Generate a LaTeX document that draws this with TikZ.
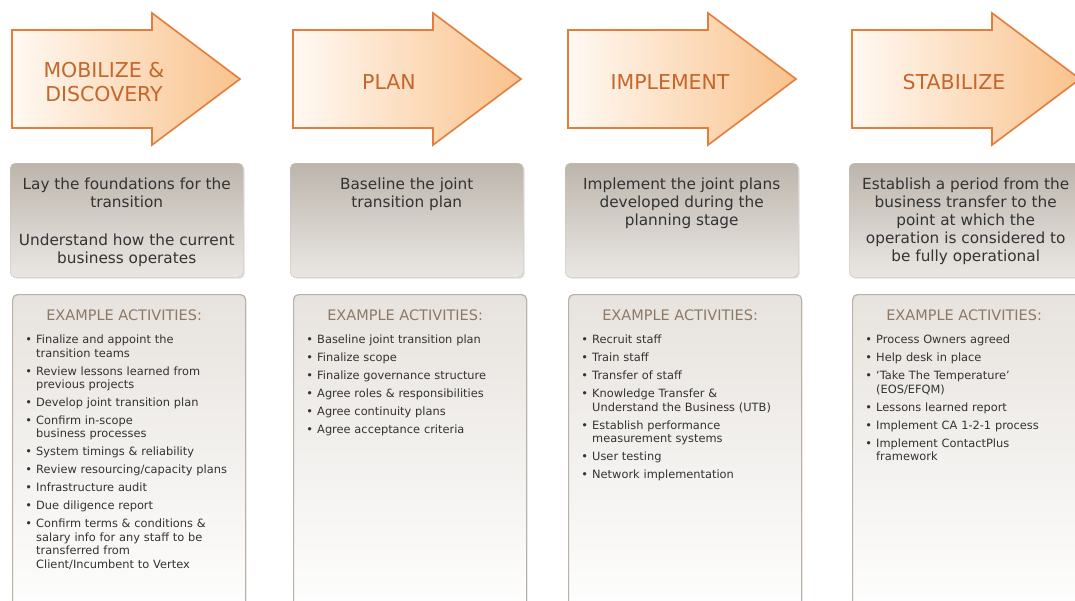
\documentclass[tikz,border=0pt]{standalone}
\usepackage{fontspec}
\setmainfont{DejaVu Sans}
\usepackage{enumitem}
\usetikzlibrary{shadows}

\definecolor{phaseline}{HTML}{E27D3C}
\definecolor{phaseleft}{HTML}{FFF9F3}
\definecolor{phaseright}{HTML}{F9C28C}
\definecolor{phasetext}{HTML}{C5662A}
\definecolor{goaltop}{HTML}{BDB5AC}
\definecolor{goalbottom}{HTML}{EAE7E3}
\definecolor{goalline}{HTML}{C9C2BA}
\definecolor{goaltext}{HTML}{333333}
\definecolor{acttop}{HTML}{E7E3DE}
\definecolor{actline}{HTML}{B9B1A7}
\definecolor{acthead}{HTML}{8C7A66}
\definecolor{acttext}{HTML}{333333}

\setlist[itemize]{label=\textbullet, leftmargin=11pt, labelsep=4pt, topsep=0pt,
  partopsep=0pt, itemsep=4.6pt, parsep=0pt}

\tikzset{%
  phase arrow/.style={
    draw=phaseline,
    line width=1.6pt,
    left color=phaseleft,
    right color=phaseright
  },
  phase title/.style={
    text=phasetext,
    align=center,
    font=\fontsize{20.5}{24}\selectfont
  },
  goal box/.style={
    draw=goalline,
    rounded corners=5pt,
    top color=goaltop,
    bottom color=goalbottom,
    minimum width=233pt,
    minimum height=114pt,
    inner sep=0pt,
    drop shadow={shadow xshift=1.5pt, shadow yshift=-1.5pt, opacity=0.25}
  },
  goal text/.style={
    anchor=north,
    text=goaltext,
    align=center,
    inner sep=0pt,
    font=\fontsize{15.3}{18}\selectfont
  },
  act box/.style={
    draw=actline,
    line width=1.2pt,
    rounded corners=5pt,
    top color=acttop,
    bottom color=white,
    minimum width=233pt,
    minimum height=330pt,
    inner sep=0pt,
    drop shadow={shadow xshift=1pt, shadow yshift=-1pt, opacity=0.15}
  },
  act head/.style={
    text=acthead,
    inner sep=0pt,
    font=\fontsize{14.5}{17}\selectfont
  },
  act list/.style={
    anchor=north west,
    text=acttext,
    text width=215pt,
    inner sep=0pt,
    font=\fontsize{11.4}{13.4}\selectfont
  },
}

\begin{document}
\begin{tikzpicture}[x=1pt, y=-1pt]
    \useasboundingbox (0,0) rectangle (1075,600);
    \fill[white] (0,0) rectangle (1075,600);
    \clip (0,0) rectangle (1075,600);

    % phase arrows
    \foreach \x/\o/\n/\t in {12/92/mobilize/{MOBILIZE \&\\DISCOVERY}, 293/96/plan/PLAN,
      568/102/implement/IMPLEMENT, 852/102/stabilize/STABILIZE} {
      \path [phase arrow] (\x,30) -- ++(140,0) -- ++(0,-17) -- ++(88,66)
        -- ++(-88,66) -- ++(0,-17) -- ++(-140,0) -- cycle;
      \node [phase title] (phase-\n) at (\x+\o,82) {\t};
    }

    % goal boxes
    \foreach \x/\n in {10/mobilize, 290/plan, 565/implement, 849/stabilize}
      \node [goal box, anchor=north west] (goal-\n) at (\x,163) {};
    \node [goal text] (goal-mobilize-text) at ([yshift=-15pt]goal-mobilize.north)
      {Lay the foundations for the\\transition\\[20pt]Understand how the current\\business operates};
    \node [goal text] (goal-plan-text) at ([yshift=-15pt]goal-plan.north)
      {Baseline the joint\\transition plan};
    \node [goal text] (goal-implement-text) at ([yshift=-15pt]goal-implement.north)
      {Implement the joint plans\\developed during the\\planning stage};
    \node [goal text] (goal-stabilize-text) at ([yshift=-15pt]goal-stabilize.north)
      {Establish a period from the\\business transfer to the\\point at which the\\operation is considered to\\be fully operational};

    % activity boxes
    \foreach \x/\n in {12/mobilize, 293/plan, 568/implement, 852/stabilize} {
      \node [act box, anchor=north west] (act-\n) at (\x,294) {};
      \node [act head] (act-\n-head) at ([xshift=-5pt, yshift=-21pt]act-\n.north) {EXAMPLE ACTIVITIES:};
    }
    \node [act list] (act-mobilize-list) at ([xshift=13pt, yshift=-36pt]act-mobilize.north west) {%
      \begin{itemize}
        \item Finalize and appoint the\\transition teams
        \item Review lessons learned from\\previous projects
        \item Develop joint transition plan
        \item Confirm in-scope\\business processes
        \item System timings \& reliability
        \item Review resourcing/capacity plans
        \item Infrastructure audit
        \item Due diligence report
        \item Confirm terms \& conditions \&\\salary info for any staff to be\\transferred from\\Client/Incumbent to Vertex
      \end{itemize}};
    \node [act list] (act-plan-list) at ([xshift=13pt, yshift=-36pt]act-plan.north west) {%
      \begin{itemize}
        \item Baseline joint transition plan
        \item Finalize scope
        \item Finalize governance structure
        \item Agree roles \& responsibilities
        \item Agree continuity plans
        \item Agree acceptance criteria
      \end{itemize}};
    \node [act list] (act-implement-list) at ([xshift=13pt, yshift=-36pt]act-implement.north west) {%
      \begin{itemize}
        \item Recruit staff
        \item Train staff
        \item Transfer of staff
        \item Knowledge Transfer \&\\Understand the Business (UTB)
        \item Establish performance\\measurement systems
        \item User testing
        \item Network implementation
      \end{itemize}};
    \node [act list] (act-stabilize-list) at ([xshift=13pt, yshift=-36pt]act-stabilize.north west) {%
      \begin{itemize}
        \item Process Owners agreed
        \item Help desk in place
        \item ‘Take The Temperature’\\(EOS/EFQM)
        \item Lessons learned report
        \item Implement CA 1-2-1 process
        \item Implement ContactPlus\\framework
      \end{itemize}};
\end{tikzpicture}
\end{document}
